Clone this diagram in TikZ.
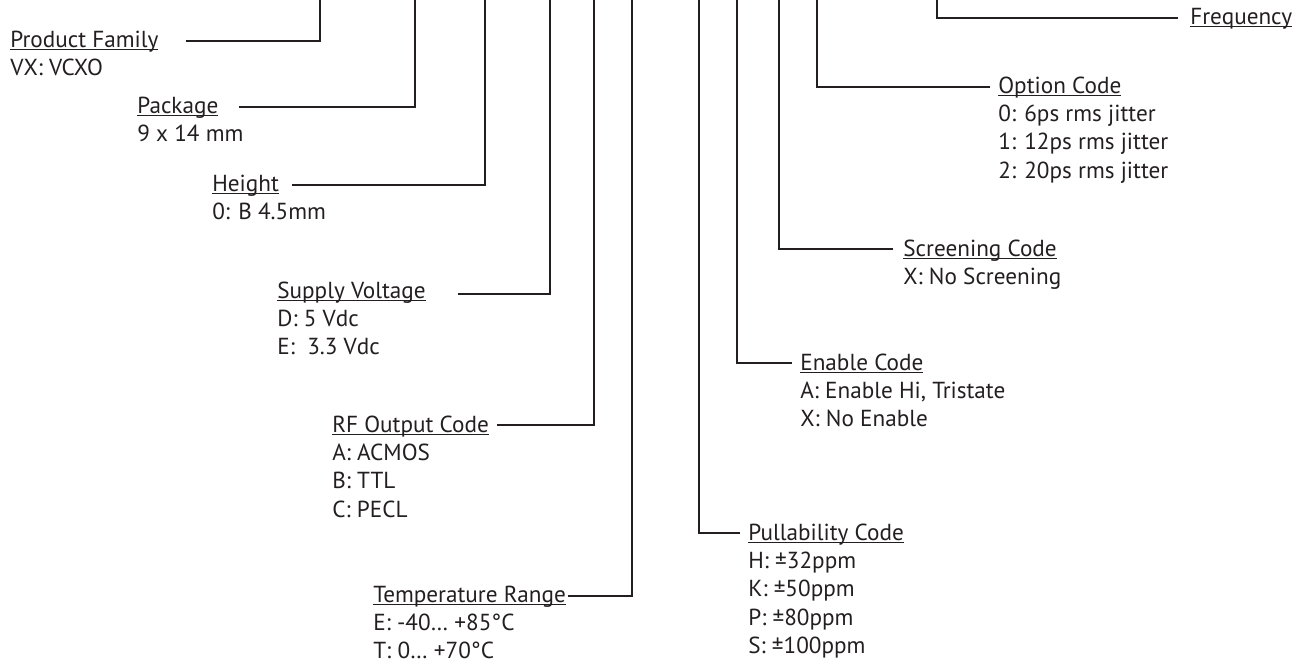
\documentclass[tikz,border=0pt]{standalone}
\usepackage{fontspec}
\setmainfont{PT Sans}
\usetikzlibrary{calc}
\definecolor{ink}{RGB}{35,31,32}
\newcommand{\ulabel}[1]{\setbox0\hbox{#1}\rlap{\rule[-1.65pt]{\wd0}{0.7pt}}\box0}
\newcommand{\vlist}[1]{\begin{tabular}[t]{@{}l@{}}#1\end{tabular}}
\tikzset{
  title/.style={anchor=base west,inner sep=0pt},
  vals/.style={anchor=base west,inner sep=0pt},
  lead/.style={line width=1.5pt},
}
\begin{document}
\begin{tikzpicture}[x=0.02cm,y=-0.02cm,color=ink,every node/.style={font=\fontsize{13.2}{16.2}\selectfont}]
\useasboundingbox (0,0) rectangle (1304,664);
% tops of the leads
\coordinate (fam top) at (320,0);
\coordinate (pkg top) at (415,0);
\coordinate (hgt top) at (485,0);
\coordinate (sup top) at (550,0);
\coordinate (rf top) at (594,0);
\coordinate (tmp top) at (632,0);
\coordinate (pul top) at (699,0);
\coordinate (ena top) at (737,0);
\coordinate (scr top) at (779,0);
\coordinate (opt top) at (817,0);
\coordinate (frq top) at (937,0);
% left hand fields
\node[title] (fam) at (10,47) {\ulabel{Product Family}};
\node[vals] (fam v) at (10,75.5) {VX: VCXO};
\node[title] (pkg) at (137,113) {\ulabel{Package}};
\node[vals] (pkg v) at (137,141.5) {9 x 14 mm};
\node[title] (hgt) at (212,191) {\ulabel{Height}};
\node[vals] (hgt v) at (212,219.5) {0: B 4.5mm};
\node[title] (sup) at (277,298) {\ulabel{Supply Voltage}};
\node[vals] (sup v) at (277,326.5) {\vlist{D: 5 Vdc\\E:~ 3.3 Vdc}};
\node[title] (rf) at (332,432) {\ulabel{RF Output Code}};
\node[vals] (rf v) at (332,460.5) {\vlist{A: ACMOS\\B: TTL\\C: PECL}};
\node[title] (tmp) at (373,602) {\ulabel{Temperature Range}};
\node[vals] (tmp v) at (373,630.5) {\vlist{E: -40… +85°C\\T: 0… +70°C}};
% right hand fields
\node[title] (frq) at (1190,24) {\ulabel{Frequency}};
\node[title] (opt) at (998,93) {\ulabel{Option Code}};
\node[vals] (opt v) at (998,121.5) {\vlist{0: 6ps rms jitter\\1: 12ps rms jitter\\2: 20ps rms jitter}};
\node[title] (scr) at (903,256) {\ulabel{Screening Code}};
\node[vals] (scr v) at (903,284.5) {X: No Screening};
\node[title] (ena) at (800,370) {\ulabel{Enable Code}};
\node[vals] (ena v) at (800,398.5) {\vlist{A: Enable Hi, Tristate\\X: No Enable}};
\node[title] (pul) at (748,540) {\ulabel{Pullability Code}};
\node[vals] (pul v) at (748,568.5) {\vlist{H: ±32ppm\\K: ±50ppm\\P: ±80ppm\\S: ±100ppm}};
% leads
\draw[lead] (fam top) |- ($(fam.base east)+(27,-6)$);
\draw[lead] (pkg top) |- ($(pkg.base east)+(20,-6)$);
\draw[lead] (hgt top) |- ($(hgt.base east)+(13,-6)$);
\draw[lead] (sup top) |- ($(sup.base east)+(32,-4)$);
\draw[lead] (rf top) |- ($(rf.base east)+(8,-7)$);
\draw[lead] (tmp top) |- ($(tmp.base east)+(2,-6)$);
\draw[lead] (pul top) |- ($(pul.base west)+(-8,-7)$);
\draw[lead] (ena top) |- ($(ena.base west)+(-8,-7)$);
\draw[lead] (scr top) |- ($(scr.base west)+(-10,-7)$);
\draw[lead] (opt top) |- ($(opt.base west)+(-8,-6)$);
\draw[lead] (frq top) |- ($(frq.base west)+(-12,-6)$);
\end{tikzpicture}
\end{document}
